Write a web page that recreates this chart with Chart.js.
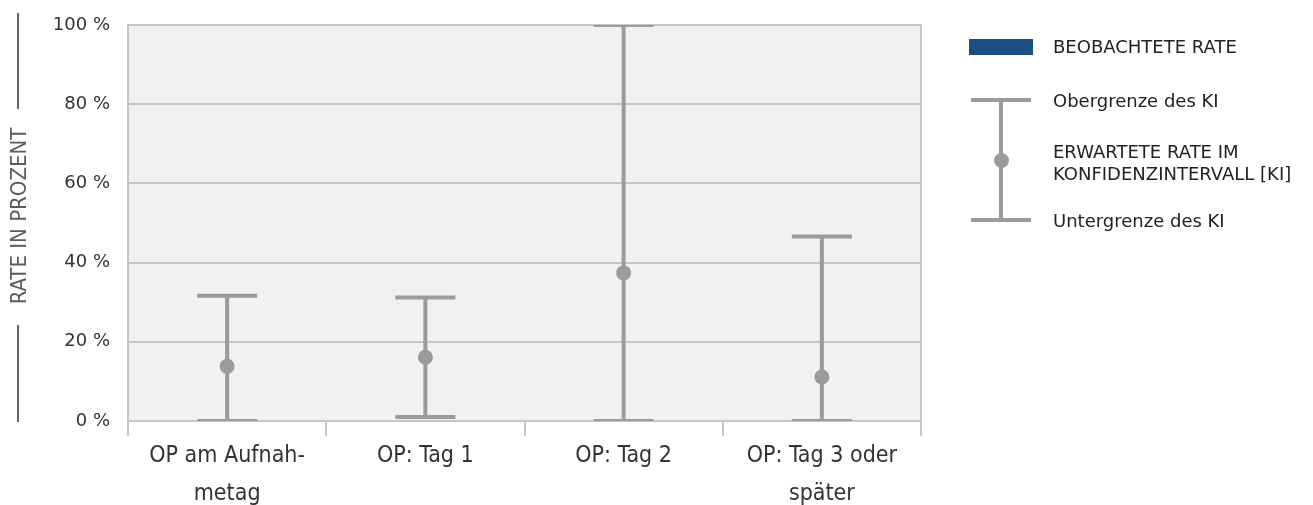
<!DOCTYPE html>
<html>
<head>
<meta charset="utf-8">
<script src="https://cdn.jsdelivr.net/npm/chart.js@4"></script>
<style>
  html, body { margin: 0; padding: 0; background: #fff; }
  #wrap { position: relative; width: 1313px; height: 505px; }
  #c { position: absolute; left: 0; top: 0; }
  .lg { position: absolute; font-family: "DejaVu Sans", sans-serif; font-size: 18px; color: #222; line-height: 22px; white-space: nowrap; }
</style>
</head>
<body>
<div id="wrap">
  <canvas id="c" width="1313" height="505"></canvas>
  <div id="legend"></div>
</div>
<script>
// ---- data ----
const categories = [["OP am Aufnah-", "metag"], "OP: Tag 1", "OP: Tag 2", ["OP: Tag 3 oder", "später"]];
const observedRate = [null, null, null, null];
const expectedRate = [13.8, 16.1, 37.4, 11.1];
const lowerCI = [0, 1.0, 0, 0];
const upperCI = [31.6, 31.2, 100, 46.6];
const yTicks = [0, 20, 40, 60, 80, 100];
const yTitle = "RATE IN PROZENT";
const legendLabels = ["BEOBACHTETE RATE", "Obergrenze des KI", ["ERWARTETE RATE IM", "KONFIDENZINTERVALL [KI]"], "Untergrenze des KI"];

const GRID = "#c6c6c6";
const ERR = "#9b9b9b";
const BLUE = "#1d4e7f";

const bgPlugin = {
  id: "bg",
  beforeDraw(chart) {
    const { ctx, chartArea: a } = chart;
    ctx.save();
    ctx.fillStyle = "#f1f1f1";
    ctx.fillRect(a.left, a.top, a.right - a.left, a.bottom - a.top);
    ctx.restore();
  },
  afterDraw(chart) {
    const { ctx, chartArea: a } = chart;
    ctx.save();
    ctx.strokeStyle = GRID;
    ctx.lineWidth = 2;
    ctx.beginPath();
    ctx.moveTo(a.right, a.top - 1);
    ctx.lineTo(a.right, a.bottom + 15);
    ctx.stroke();
    // y title with lines
    ctx.strokeStyle = "#666";
    ctx.lineWidth = 2;
    ctx.beginPath();
    ctx.moveTo(18, 13); ctx.lineTo(18, 109);
    ctx.moveTo(18, 325); ctx.lineTo(18, 422);
    ctx.stroke();
    ctx.translate(20, 216);
    ctx.rotate(-Math.PI / 2);
    ctx.fillStyle = "#5c5c5c";
    ctx.font = "22px 'DejaVu Sans Condensed', 'DejaVu Sans', sans-serif";
    ctx.textAlign = "center";
    ctx.textBaseline = "middle";
    ctx.fillText(yTitle, 0, 0);
    ctx.restore();
  }
};

const errPlugin = {
  id: "errbars",
  beforeDatasetsDraw(chart) {
    const { ctx, chartArea: a, scales: { x, y } } = chart;
    ctx.save();
    ctx.beginPath();
    ctx.rect(a.left, a.top, a.right - a.left, a.bottom - a.top);
    ctx.clip();
    ctx.strokeStyle = ERR;
    ctx.lineWidth = 4;
    for (let i = 0; i < categories.length; i++) {
      const px = x.getPixelForValue(i);
      const yl = y.getPixelForValue(lowerCI[i]);
      const yu = y.getPixelForValue(upperCI[i]);
      ctx.beginPath();
      ctx.moveTo(px, yl); ctx.lineTo(px, yu);
      ctx.moveTo(px - 30, yu); ctx.lineTo(px + 30, yu);
      ctx.moveTo(px - 30, yl); ctx.lineTo(px + 30, yl);
      ctx.stroke();
    }
    ctx.restore();
  }
};

new Chart(document.getElementById("c"), {
  data: {
    labels: categories,
    datasets: [
      { type: "bar", label: legendLabels[0], data: observedRate, backgroundColor: BLUE },
      { type: "line", label: legendLabels[2].join(" "), data: expectedRate, showLine: false,
        pointRadius: 7.5, pointHoverRadius: 7.5, pointBackgroundColor: ERR, pointBorderWidth: 0, borderColor: ERR }
    ]
  },
  options: {
    responsive: false,
    animation: false,
    events: [],
    layout: { padding: { left: 0, top: 25, right: 392, bottom: 0 } },
    plugins: { legend: { display: false }, tooltip: { enabled: false } },
    scales: {
      x: {
        offset: true,
        grid: { display: true, offset: true, drawOnChartArea: false, drawTicks: true, tickLength: 15, color: GRID, lineWidth: 2 },
        border: { display: true, color: GRID, width: 2 },
        ticks: { color: "#333", padding: 1, maxRotation: 0, autoSkip: false,
          font: { family: "'DejaVu Sans Condensed', 'DejaVu Sans', sans-serif", size: 23, lineHeight: 1.65 } },
        afterFit(s) { s.height = 84; s.paddingLeft = 0; s.paddingRight = 0; }
      },
      y: {
        min: 0, max: 100,
        afterBuildTicks(s) { s.ticks = yTicks.map(v => ({ value: v })); },
        grid: { color: GRID, lineWidth: 2, drawTicks: false },
        border: { display: true, color: GRID, width: 2 },
        ticks: { color: "#333", padding: 18, callback: v => v + " %",
          font: { family: "'DejaVu Sans', sans-serif", size: 18 } },
        afterFit(s) { s.width = 128; s.paddingTop = 0; s.paddingBottom = 0; }
      }
    }
  },
  plugins: [bgPlugin, errPlugin]
});

// ---- legend (HTML) ----
const lg = document.getElementById("legend");
function add(html) { lg.insertAdjacentHTML("beforeend", html); }
add(`<div style="position:absolute;left:969px;top:39px;width:64px;height:16px;background:${BLUE}"></div>`);
add(`<div style="position:absolute;left:971px;top:98px;width:60px;height:4px;background:${ERR}"></div>`);
add(`<div style="position:absolute;left:971px;top:218px;width:60px;height:4px;background:${ERR}"></div>`);
add(`<div style="position:absolute;left:999px;top:98px;width:4px;height:124px;background:${ERR}"></div>`);
add(`<div style="position:absolute;left:994px;top:153px;width:15px;height:15px;border-radius:50%;background:${ERR}"></div>`);
add(`<div class="lg" style="left:1053px;top:36px">${legendLabels[0]}</div>`);
add(`<div class="lg" style="left:1053px;top:90px">${legendLabels[1]}</div>`);
add(`<div class="lg" style="left:1053px;top:141px">${legendLabels[2][0]}<br>${legendLabels[2][1]}</div>`);
add(`<div class="lg" style="left:1053px;top:210px">${legendLabels[3]}</div>`);
</script>
</body>
</html>
